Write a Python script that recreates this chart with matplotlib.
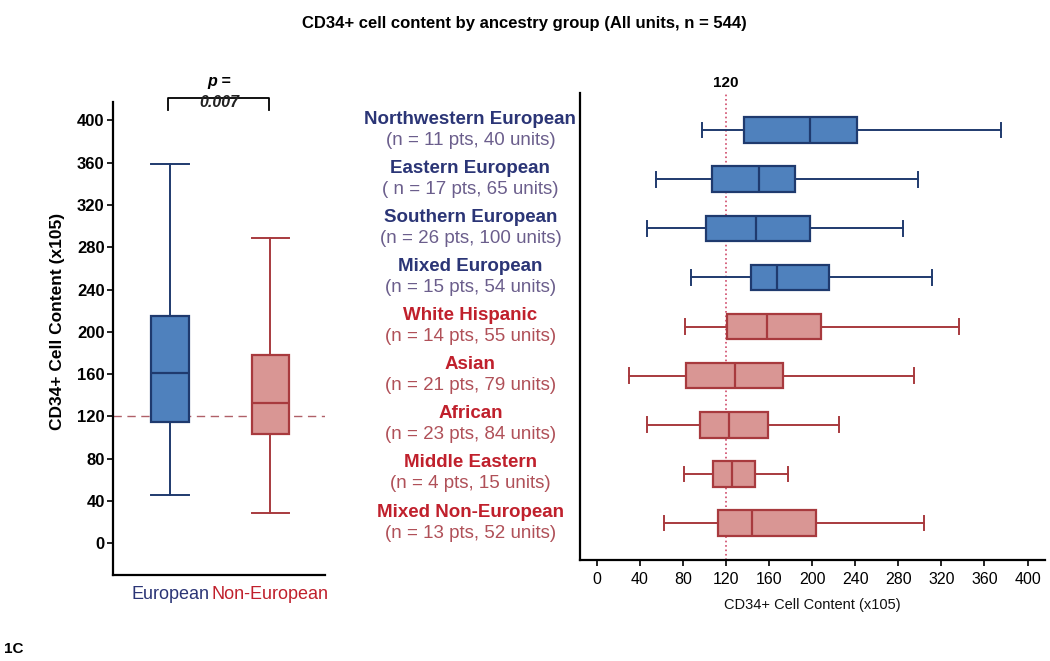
import matplotlib
matplotlib.use("Agg")
import matplotlib.pyplot as plt
from matplotlib import transforms

plt.rcParams["font.family"] = ["Liberation Sans", "DejaVu Sans"]

# left panel: European vs Non-European summary
pooled_names = ["European", "Non-European"]
pooled_whislo = [46, 29]
pooled_q1 = [115, 103]
pooled_med = [161, 133]
pooled_q3 = [215, 178]
pooled_whishi = [359, 289]

# right panel: ancestry groups (top to bottom)
groups = ["Northwestern European", "Eastern European", "Southern European", "Mixed European",
          "White Hispanic", "Asian", "African", "Middle Eastern", "Mixed Non-European"]
n_labels = ["(n = 11 pts, 40 units)", "( n = 17 pts, 65 units)", "(n = 26 pts, 100 units)",
            "(n = 15 pts, 54 units)", "(n = 14 pts, 55 units)", "(n = 21 pts, 79 units)",
            "(n = 23 pts, 84 units)", "(n = 4 pts, 15 units)", "(n = 13 pts, 52 units)"]
is_european = [True, True, True, True, False, False, False, False, False]
whislo = [98, 55, 47, 87, 82, 30, 47, 81, 62]
q1 = [137, 107, 101, 143, 121, 83, 96, 108, 113]
med = [198, 151, 148, 167, 158, 128, 123, 126, 144]
q3 = [242, 184, 198, 216, 208, 173, 159, 147, 204]
whishi = [375, 298, 284, 311, 336, 295, 225, 178, 304]

threshold = 120
p_text = "0.007"

blue_fill, blue_edge = "#4f81bd", "#1f3a6e"
red_fill, red_edge = "#d99694", "#a83a3e"
blue_text, blue_sub = "#2b3576", "#6b5e8c"
red_text, red_sub = "#c0202c", "#b05058"


def make_stats(lo, a, m, b, hi):
    return [dict(whislo=w0, q1=x1, med=mm, q3=x3, whishi=w1, fliers=[])
            for w0, x1, mm, x3, w1 in zip(lo, a, m, b, hi)]


def style_box(parts, fill, edge, i):
    parts["boxes"][i].set(facecolor=fill, edgecolor=edge, linewidth=1.6)
    parts["medians"][i].set(color=edge, linewidth=1.6)
    for line in parts["whiskers"][2 * i:2 * i + 2] + parts["caps"][2 * i:2 * i + 2]:
        line.set(color=edge, linewidth=1.4)


fig = plt.figure(figsize=(10.5, 6.61), dpi=100)
fig.text(0.499, 0.965, "CD34+ cell content by ancestry group (All units, n = 544)",
         ha="center", va="center", fontsize=12, fontweight="bold")
fig.text(0.004, 0.012, "1C", fontsize=11, fontweight="bold")

# ---- left panel
ax1 = fig.add_axes([0.1076, 0.130, 0.202, 0.715])
ax1.axhline(threshold, color="#b06068", lw=1, dashes=(6, 4), zorder=0)
parts = ax1.bxp(make_stats(pooled_whislo, pooled_q1, pooled_med, pooled_q3, pooled_whishi),
                positions=[1, 2], widths=0.37, capwidths=0.37, patch_artist=True,
                showfliers=False)
style_box(parts, blue_fill, blue_edge, 0)
style_box(parts, red_fill, red_edge, 1)
ax1.set_xlim(0.43, 2.55)
ax1.set_ylim(-30, 417)
ax1.set_yticks(range(0, 401, 40))
ax1.set_xticks([1, 2])
ax1.set_xticklabels(pooled_names, fontsize=13)
for lab, col in zip(ax1.get_xticklabels(), [blue_text, red_text]):
    lab.set_color(col)
ax1.tick_params(axis="x", length=0, pad=8)
ax1.tick_params(axis="y", length=4, width=1.2, labelsize=12, pad=2)
for lab in ax1.get_yticklabels():
    lab.set_fontweight("bold")
ax1.set_ylabel("CD34+ Cell Content (x105)", fontsize=12.5, fontweight="bold")
ax1.yaxis.set_label_coords(-0.225, 0.537)
for side in ["top", "right"]:
    ax1.spines[side].set_visible(False)
for side in ["left", "bottom"]:
    ax1.spines[side].set_linewidth(1.6)

# significance bracket
ax1.plot([0.98, 0.98, 1.99, 1.99], [410, 421, 421, 410], color="black", lw=1.3, clip_on=False)
ax1.text(1.49, 437, "p =", ha="center", va="center", fontsize=11.5, fontweight="bold",
         style="italic")
ax1.text(1.49, 417, p_text, ha="center", va="center", fontsize=11.5, fontweight="bold",
         style="italic", color="#222222")

# ---- right panel
ax2 = fig.add_axes([0.552, 0.153, 0.443, 0.706])
positions = list(range(len(groups)))
ax2.axvline(threshold, color="#d04a6a", lw=1.2, ls=":", zorder=0)
parts = ax2.bxp(make_stats(whislo, q1, med, q3, whishi), positions=positions, vert=False,
                widths=0.52, capwidths=0.3, patch_artist=True, showfliers=False)
for i, eu in enumerate(is_european):
    if eu:
        style_box(parts, blue_fill, blue_edge, i)
    else:
        style_box(parts, red_fill, red_edge, i)
ax2.set_ylim(len(groups) - 0.25, -0.75)
ax2.set_xlim(-16, 416)
ax2.set_xticks(range(0, 401, 40))
ax2.set_yticks([])
ax2.tick_params(axis="x", length=4, width=1.2, labelsize=11.5, pad=5)
ax2.set_xlabel("CD34+ Cell Content (x105)", fontsize=10.5, labelpad=8, color="#111111")
for side in ["top", "right"]:
    ax2.spines[side].set_visible(False)
for side in ["left", "bottom"]:
    ax2.spines[side].set_linewidth(1.6)
ax2.annotate(str(threshold), xy=(threshold, -0.75), xytext=(0, 3), textcoords="offset pixels",
             ha="center", va="bottom", fontsize=11, fontweight="bold", annotation_clip=False)

label_tr = transforms.blended_transform_factory(fig.transFigure, ax2.transData)
for pos, name, sub, eu in zip(positions, groups, n_labels, is_european):
    ax2.annotate(name, xy=(0.448, pos), xycoords=label_tr, xytext=(0, 11),
                 textcoords="offset pixels", ha="center", va="center", fontsize=13.5,
                 fontweight="bold", color=blue_text if eu else red_text, annotation_clip=False)
    ax2.annotate(sub, xy=(0.448, pos), xycoords=label_tr, xytext=(0, -10),
                 textcoords="offset pixels", ha="center", va="center", fontsize=13.5,
                 color=blue_sub if eu else red_sub, annotation_clip=False)

fig.savefig("out.png", dpi=100)
